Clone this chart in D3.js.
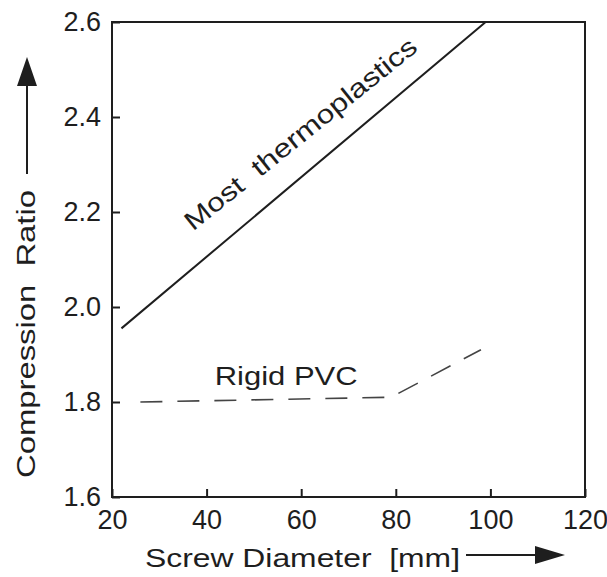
<!DOCTYPE html>
<html>
<head>
<meta charset="utf-8">
<script src="https://cdn.jsdelivr.net/npm/d3@7"></script>
<style>
  body { margin: 0; background: #fff; }
  svg { display: block; font-family: "Liberation Sans", Arial, sans-serif; }
  svg text { white-space: pre; }
</style>
</head>
<body>
<svg id="chart"></svg>
<script>
// data
const xTicks = [20, 40, 60, 80, 100, 120];
const yTicks = [1.6, 1.8, 2.0, 2.2, 2.4, 2.6];
const thermoX = [22, 99];
const thermoY = [1.955, 2.6];
const pvcX = [26, 79, 98];
const pvcY = [1.80, 1.81, 1.91];

const w = 607, h = 577;
const svg = d3.select('#chart').attr('width', w).attr('height', h);

const x = d3.scaleLinear().domain([20, 120]).range([112, 585]);
const y = d3.scaleLinear().domain([1.6, 2.6]).range([497, 22]);

const ink = '#1e1e1e';

// frame
svg.append('rect')
  .attr('x', x(20)).attr('y', y(2.6))
  .attr('width', x(120) - x(20)).attr('height', y(1.6) - y(2.6))
  .attr('fill', 'none').attr('stroke', ink).attr('stroke-width', 2);

const xAxis = d3.axisBottom(x).tickValues(xTicks).tickSize(-8).tickPadding(13)
  .tickFormat(d3.format('d'));
const yAxis = d3.axisLeft(y).tickValues(yTicks).tickSize(-8).tickPadding(11)
  .tickFormat(d3.format('.1f'));

const gx = svg.append('g').attr('transform', `translate(0,${y(1.6)})`).call(xAxis);
const gy = svg.append('g').attr('transform', `translate(${x(20)},0)`).call(yAxis);
[gx, gy].forEach(g => {
  g.select('.domain').remove();
  g.selectAll('line').attr('stroke', ink).attr('stroke-width', 2);
  g.selectAll('text').attr('fill', ink).style('font-size', '27px')
    .style('font-family', '"Liberation Sans", Arial, sans-serif');
});

// lines
const line = d3.line().x(d => x(d[0])).y(d => y(d[1]));
svg.append('path')
  .datum(d3.zip(thermoX, thermoY))
  .attr('d', line)
  .attr('fill', 'none').attr('stroke', ink).attr('stroke-width', 2);
svg.append('path')
  .datum(d3.zip(pvcX, pvcY))
  .attr('d', line)
  .attr('fill', 'none').attr('stroke', '#444').attr('stroke-width', 1.6)
  .attr('stroke-dasharray', '22,15');

// labels
const ang = Math.atan2(y(thermoY[1]) - y(thermoY[0]), x(thermoX[1]) - x(thermoX[0])) * 180 / Math.PI;
svg.append('text')
  .attr('transform', `translate(${x(61)},${y(2.35)}) rotate(${ang + 1.3})`)
  .attr('text-anchor', 'middle')
  .attr('textLength', 290).attr('lengthAdjust', 'spacingAndGlyphs')
  .style('font-size', '26px').attr('fill', ink)
  .text('Most  thermoplastics');

svg.append('text')
  .attr('x', x(41.7)).attr('y', y(1.836))
  .attr('textLength', 143).attr('lengthAdjust', 'spacingAndGlyphs')
  .style('font-size', '26px').attr('fill', ink)
  .text('Rigid PVC');

// axis titles with arrows
svg.append('text')
  .attr('x', 145).attr('y', 567)
  .attr('textLength', 315).attr('lengthAdjust', 'spacingAndGlyphs')
  .style('font-size', '26px').attr('fill', ink)
  .text('Screw Diameter  [mm]');
svg.append('line').attr('x1', 466).attr('x2', 540).attr('y1', 555).attr('y2', 555)
  .attr('stroke', ink).attr('stroke-width', 2);
svg.append('path').attr('d', 'M535,546 L565,555 L535,564 Z').attr('fill', ink);

svg.append('text')
  .attr('transform', 'translate(35,478) rotate(-90)')
  .attr('textLength', 288).attr('lengthAdjust', 'spacingAndGlyphs')
  .style('font-size', '26px').attr('fill', ink)
  .text('Compression  Ratio');
svg.append('line').attr('x1', 27).attr('x2', 27).attr('y1', 174).attr('y2', 80)
  .attr('stroke', ink).attr('stroke-width', 2);
svg.append('path').attr('d', 'M17,86 L27,57 L37,86 Z').attr('fill', ink);
</script>
</body>
</html>
